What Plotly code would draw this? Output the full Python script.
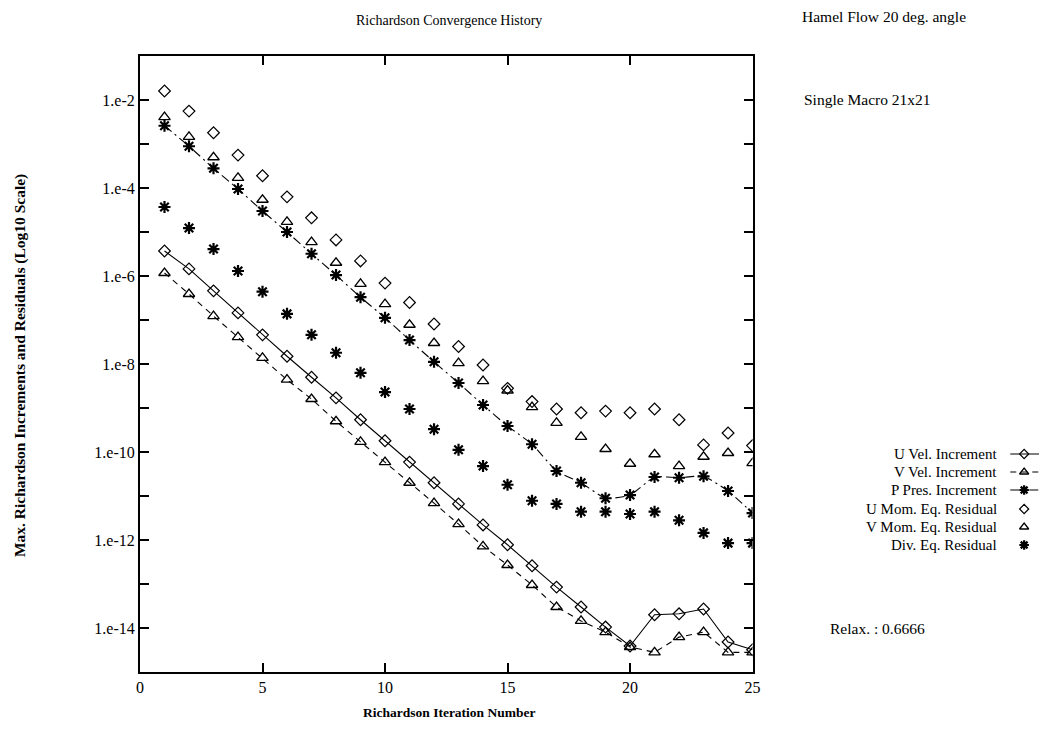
import plotly.graph_objects as go

# ---------------- data ----------------
iterations = list(range(1, 26))

u_vel_increment = [3.7e-6, 1.45e-6, 4.6e-7, 1.45e-7, 4.6e-8, 1.5e-8, 5.0e-9, 1.7e-9, 5.4e-10, 1.8e-10,
                   5.9e-11, 2.0e-11, 6.6e-12, 2.2e-12, 7.8e-13, 2.6e-13, 8.5e-14, 3.0e-14, 1.05e-14, 3.9e-15,
                   2.0e-14, 2.1e-14, 2.7e-14, 4.8e-15, 3.2e-15]
v_vel_increment = [1.17e-6, 3.9e-7, 1.23e-7, 4.1e-8, 1.38e-8, 4.4e-9, 1.6e-9, 5.0e-10, 1.7e-10, 5.9e-11,
                   2.0e-11, 6.9e-12, 2.3e-12, 7.2e-13, 2.7e-13, 9.5e-14, 3.0e-14, 1.45e-14, 8.1e-15, 3.7e-15,
                   2.8e-15, 6.2e-15, 8.1e-15, 2.8e-15, 2.8e-15]
p_pres_increment = [2.6e-3, 8.9e-4, 2.8e-4, 9.5e-5, 3.0e-5, 1.0e-5, 3.2e-6, 1.05e-6, 3.3e-7, 1.12e-7,
                    3.5e-8, 1.12e-8, 3.7e-9, 1.17e-9, 3.9e-10, 1.5e-10, 3.7e-11, 2.0e-11, 8.9e-12, 1.05e-11,
                    2.7e-11, 2.6e-11, 2.8e-11, 1.3e-11, 4.1e-12]
u_mom_residual = [1.6e-2, 5.6e-3, 1.8e-3, 5.6e-4, 1.9e-4, 6.3e-5, 2.1e-5, 6.6e-6, 2.2e-6, 6.9e-7,
                  2.5e-7, 8.1e-8, 2.5e-8, 9.5e-9, 2.8e-9, 1.4e-9, 9.5e-10, 7.8e-10, 8.5e-10, 7.8e-10,
                  9.5e-10, 5.4e-10, 1.45e-10, 2.7e-10, 1.4e-10]
v_mom_residual = [4.1e-3, 1.45e-3, 5.0e-4, 1.7e-4, 5.4e-5, 1.7e-5, 5.9e-6, 2.0e-6, 6.6e-7, 2.3e-7,
                  7.8e-8, 3.0e-8, 1.05e-8, 4.1e-9, 2.5e-9, 1.05e-9, 4.6e-10, 2.2e-10, 1.17e-10, 5.4e-11,
                  8.9e-11, 4.8e-11, 7.8e-11, 9.5e-11, 5.6e-11]
div_residual = [3.7e-5, 1.23e-5, 4.1e-6, 1.3e-6, 4.4e-7, 1.38e-7, 4.6e-8, 1.8e-8, 6.3e-9, 2.3e-9,
                9.5e-10, 3.3e-10, 1.12e-10, 4.8e-11, 1.8e-11, 7.8e-12, 6.6e-12, 4.4e-12, 4.4e-12, 3.9e-12,
                4.4e-12, 2.8e-12, 1.45e-12, 8.5e-13, 8.5e-13]

series_names = ["U Vel. Increment", "V Vel. Increment", "P Pres. Increment",
                "U Mom. Eq. Residual", "V Mom. Eq. Residual", "Div. Eq. Residual"]

x_tick_vals = [0, 5, 10, 15, 20, 25]
y_tick_exps = list(range(-2, -15, -1))

# ---------------- layout geometry (pixels) ----------------
W, H = 1053, 734
L, R, T, B = 140, 5, 56, 62
PLOT_RIGHT = 758
PW = W - L - R
PH = H - T - B
FONT = "Liberation Serif"


def px(xp):
    return (xp - L) / PW


def py(yp):
    return (H - B - yp) / PH


BLACK = "black"
styles = [
    dict(mode="lines+markers", line=dict(color=BLACK, width=1.1),
         marker=dict(symbol="diamond-open", size=9, color=BLACK, line=dict(width=1.2))),
    dict(mode="lines+markers", line=dict(color=BLACK, width=1.1, dash="6px,5px"),
         marker=dict(symbol="triangle-up-open", size=10, color=BLACK, line=dict(width=1.3))),
    dict(mode="lines+markers", line=dict(color=BLACK, width=1.1, dash="9px,4px,2px,4px", shape="spline", smoothing=0.5),
         marker=dict(symbol="asterisk-open", size=10, color=BLACK, line=dict(width=2.2, color=BLACK))),
    dict(mode="markers",
         marker=dict(symbol="diamond-open", size=9, color=BLACK, line=dict(width=1.2))),
    dict(mode="markers",
         marker=dict(symbol="triangle-up-open", size=10, color=BLACK, line=dict(width=1.3))),
    dict(mode="markers",
         marker=dict(symbol="asterisk-open", size=10, color=BLACK, line=dict(width=2.2, color=BLACK))),
]
data_series = [u_vel_increment, v_vel_increment, p_pres_increment,
               u_mom_residual, v_mom_residual, div_residual]

fig = go.Figure()
for name, vals, st in zip(series_names, data_series, styles):
    fig.add_trace(go.Scatter(x=iterations, y=vals, name=name, showlegend=False,
                             xaxis="x", yaxis="y", **st))

# ---------------- manual legend (text left, key right) ----------------
legend_rows = [454, 472, 490, 509, 527, 545]
key_left, key_mid, key_right = 1018, 1032, 1047
for name, yrow, st in zip(series_names, legend_rows, styles):
    kmarker = dict(st["marker"])
    kmarker["size"] = kmarker["size"] - 2
    if "lines" in st["mode"]:
        kline = dict(st["line"])
        kline.pop("shape", None)
        kline.pop("smoothing", None)
        fig.add_trace(go.Scatter(x=[key_left, key_right], y=[yrow, yrow], showlegend=False,
                                 xaxis="x2", yaxis="y2", hoverinfo="skip", mode="lines", line=kline))
    fig.add_trace(go.Scatter(x=[key_mid], y=[yrow], showlegend=False, xaxis="x2", yaxis="y2",
                             hoverinfo="skip", mode="markers", marker=kmarker))
    fig.add_annotation(text=name, x=px(1007), y=py(yrow), xref="paper", yref="paper",
                       xanchor="right", yanchor="middle", showarrow=False,
                       font=dict(family=FONT, size=15, color=BLACK))

# ---------------- other texts ----------------
texts = [
    ("Richardson Convergence History", 452, 21, "center", 14, False),
    ("Hamel Flow 20 deg. angle", 806, 16, "left", 15.5, False),
    ("Single Macro 21x21", 808, 100, "left", 15.5, False),
    ("Relax. : 0.6666", 834, 628, "left", 15.5, False),
    ("Richardson Iteration Number", 452, 712, "center", 13.5, True),
]
for txt, xp, yp, anchor, size, bold in texts:
    fig.add_annotation(text=f"<b>{txt}</b>" if bold else txt, x=px(xp), y=py(yp),
                       xref="paper", yref="paper", xanchor=anchor, yanchor="middle",
                       showarrow=False, font=dict(family=FONT, size=size, color=BLACK))
fig.add_annotation(text="<b>Max. Richardson Increments and Residuals (Log10 Scale)</b>",
                   x=px(19), y=py(366), xref="paper", yref="paper", textangle=-90,
                   xanchor="center", yanchor="middle", showarrow=False,
                   font=dict(family=FONT, size=15.5, color=BLACK))

y_tick_vals = [10.0 ** e for e in y_tick_exps]
y_tick_text = [f"1.e{e}" if e % 2 == 0 else "" for e in y_tick_exps]

fig.update_layout(
    width=W, height=H,
    margin=dict(l=L, r=R, t=T, b=B, pad=0),
    paper_bgcolor="white", plot_bgcolor="white",
    font=dict(family=FONT, color=BLACK),
    xaxis=dict(domain=[0, px(PLOT_RIGHT)], range=[0, 25], tickvals=x_tick_vals,
               ticks="inside", ticklen=9, tickwidth=2, tickcolor=BLACK,
               showline=True, linewidth=2, linecolor=BLACK, mirror="ticks",
               showgrid=False, zeroline=False, tickfont=dict(family=FONT, size=16, color=BLACK)),
    yaxis=dict(type="log", range=[-15, -1], tickvals=y_tick_vals, ticktext=y_tick_text,
               ticks="inside", ticklen=9, tickwidth=2, tickcolor=BLACK,
               showline=True, linewidth=2, linecolor=BLACK, mirror="ticks",
               showgrid=False, zeroline=False, tickfont=dict(family=FONT, size=16, color=BLACK)),
    xaxis2=dict(domain=[px(1012), px(1048)], range=[1012, 1048], visible=False, anchor="y2"),
    yaxis2=dict(domain=[py(560), py(440)], range=[560, 440], visible=False, anchor="x2"),
)

fig.write_html("out.html")
